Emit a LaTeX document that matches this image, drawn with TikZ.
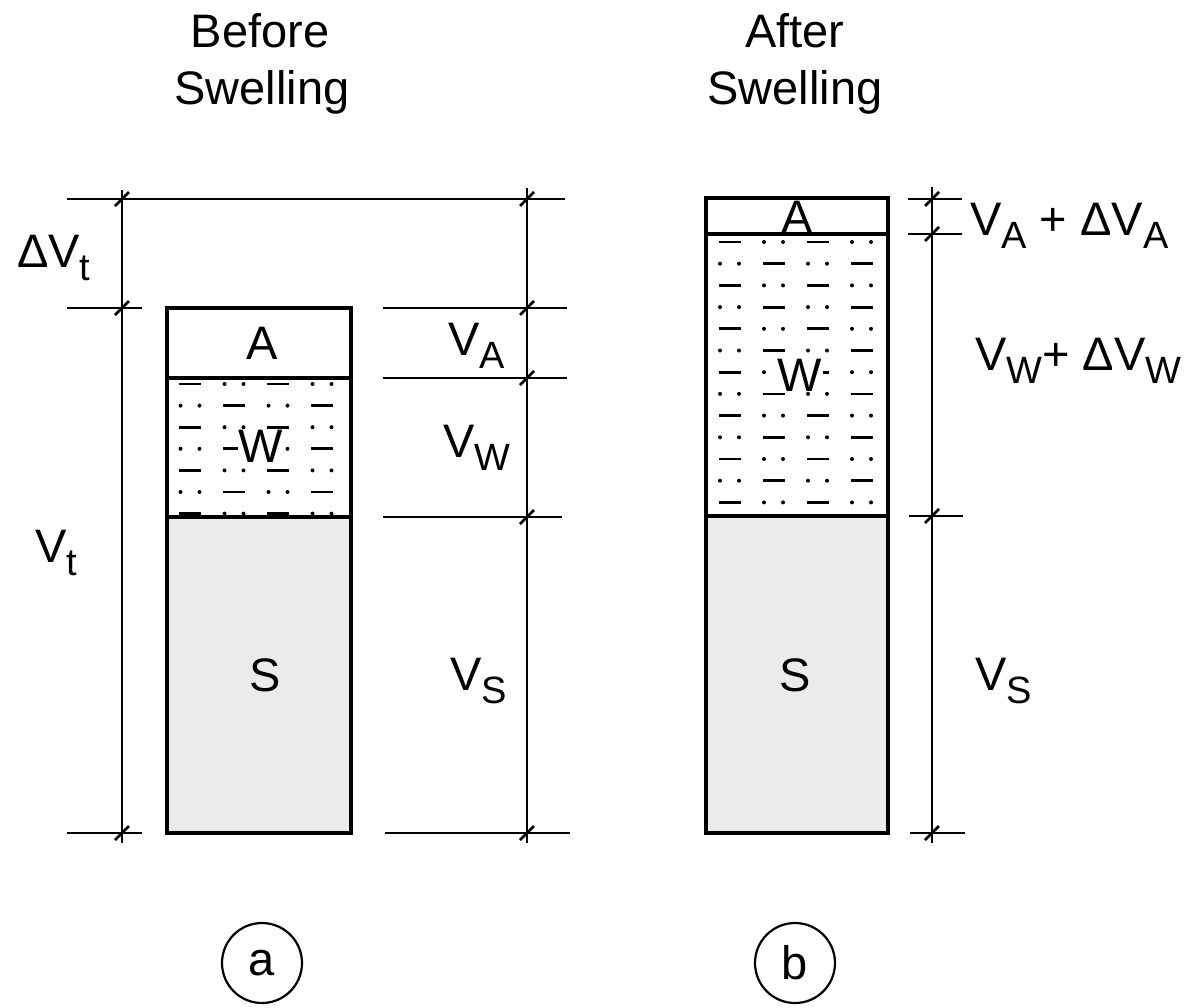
\documentclass[tikz,border=0pt]{standalone}
\usepackage{fontspec}
\setmainfont{Liberation Sans}
\newcommand\sbs[1]{\raisebox{-13pt}{\fontsize{38}{38}\selectfont #1}}
\begin{document}
\begin{tikzpicture}[x=1pt,y=-1pt,
  boxline/.style={line width=3.2pt},
  dimline/.style={line width=2pt},
  tickmark/.style={line width=2.6pt},
  sfill/.style={fill=black!8},
  dashw/.style={line width=2.8pt},
  big/.style={font=\fontsize{47}{47}\selectfont, inner sep=0pt},
  title/.style={font=\fontsize{47}{47}\selectfont, inner sep=0pt, anchor=base},
  wlabel/.style={big, fill=white, inner sep=1pt},
  circ/.style={circle, draw, line width=2.2pt, minimum size=80pt, inner sep=0pt, font=\fontsize{47}{47}\selectfont}]
\useasboundingbox (0,0) rectangle (1196,1007);

% titles
\node[title] (t1a) at (260,47) {Before};
\node[title] (t1b) at (262,104) {Swelling};
\node[title] (t2a) at (795,47) {After};
\node[title] (t2b) at (795,104) {Swelling};

% ---------- left column (a) ----------
\coordinate (LTL) at (167,308);
\coordinate (LAW) at (351,378);
\coordinate (LWS) at (167,517);
\coordinate (LBR) at (351,833);
\fill[sfill] (167,517) rectangle (351,833);
% water pattern
\foreach \k in {0,...,6}{
  \pgfmathsetmacro\yy{384+21.6*\k}
  \foreach \c in {0,...,3}{
    \pgfmathsetmacro\cx{190+44*\c}
    \pgfmathtruncatemacro\m{mod(\k+\c,2)}
    \ifnum\m=0
      \draw[dashw] (\cx-11,\yy) -- (\cx+11,\yy);
    \else
      \fill (\cx-9.5,\yy) circle (2);
      \fill (\cx+9.5,\yy) circle (2);
    \fi
  }
}
\node[wlabel] (lw) at (261,446) {W};
\node[big] (la) at (262,343) {A};
\node[big] (ls) at (265,675) {S};
\draw[boxline] (LTL) rectangle (LBR);
\draw[boxline] (167,378) -- (LAW);
\draw[boxline] (LWS) -- (351,517);

% left dimension line
\draw[dimline] (122,190) -- (122,843);
\draw[dimline] (67,199) -- (565,199);
\draw[dimline] (67,308) -- (142,308);
\draw[dimline] (67,833) -- (142,833);
\foreach \yy in {199,308,833}{\draw[tickmark] (122,\yy) ++(-7,7) -- ++(14,-14);}
\node[big, anchor=base west] (dvt) at (17,267) {ΔV\sbs{t}};
\node[big, anchor=base west] (vt) at (35,562) {V\sbs{t}};

% middle dimension line
\draw[dimline] (527,188) -- (527,843);
\draw[dimline] (383,308) -- (567,308);
\draw[dimline] (383,378) -- (567,378);
\draw[dimline] (383,517) -- (562,517);
\draw[dimline] (385,833) -- (570,833);
\foreach \yy in {199,308,378,517,833}{\draw[tickmark] (527,\yy) ++(-7,7) -- ++(14,-14);}
\node[big, anchor=base west] (va) at (448,355) {V\sbs{A}};
\node[big, anchor=base west] (vw) at (443,457) {V\sbs{W}};
\node[big, anchor=base west] (vs) at (450,690) {V\sbs{S}};

% ---------- right column (b) ----------
\coordinate (RTL) at (706,198);
\coordinate (RBR) at (888,833);
\fill[sfill] (706,516) rectangle (888,833);
\foreach \k in {0,...,12}{
  \pgfmathsetmacro\yy{242+21.7*\k}
  \foreach \c in {0,...,3}{
    \pgfmathsetmacro\cx{729.5+44*\c}
    \pgfmathtruncatemacro\m{mod(\k+\c,2)}
    \ifnum\m=0
      \draw[dashw] (\cx-11,\yy) -- (\cx+11,\yy);
    \else
      \fill (\cx-9.5,\yy) circle (2);
      \fill (\cx+9.5,\yy) circle (2);
    \fi
  }
}
\node[wlabel] (rw) at (800,375) {W};
\node[big] (ra) at (797,217) {A};
\node[big] (rs) at (795,675) {S};
\draw[boxline] (RTL) rectangle (RBR);
\draw[boxline] (706,234) -- (888,234);
\draw[boxline] (706,516) -- (888,516);

% right dimension line
\draw[dimline] (932,187) -- (932,843);
\draw[dimline] (908,199) -- (962,199);
\draw[dimline] (908,234) -- (962,234);
\draw[dimline] (909,516) -- (963,516);
\draw[dimline] (910,833) -- (965,833);
\foreach \yy in {199,234,516,833}{\draw[tickmark] (932,\yy) ++(-7,7) -- ++(14,-14);}
\node[big, anchor=base west] (vada) at (970,235) {V\sbs{A} + ΔV\sbs{A}};
\node[big, anchor=base west] (vwdw) at (975,370) {V\sbs{W}+ ΔV\sbs{W}};
\node[big, anchor=base west] (vs2) at (975,690) {V\sbs{S}};

% circled labels
\node[circ] (ca) at (262,963) {a};
\node[circ] (cb) at (795,963) {b};
\end{tikzpicture}
\end{document}
